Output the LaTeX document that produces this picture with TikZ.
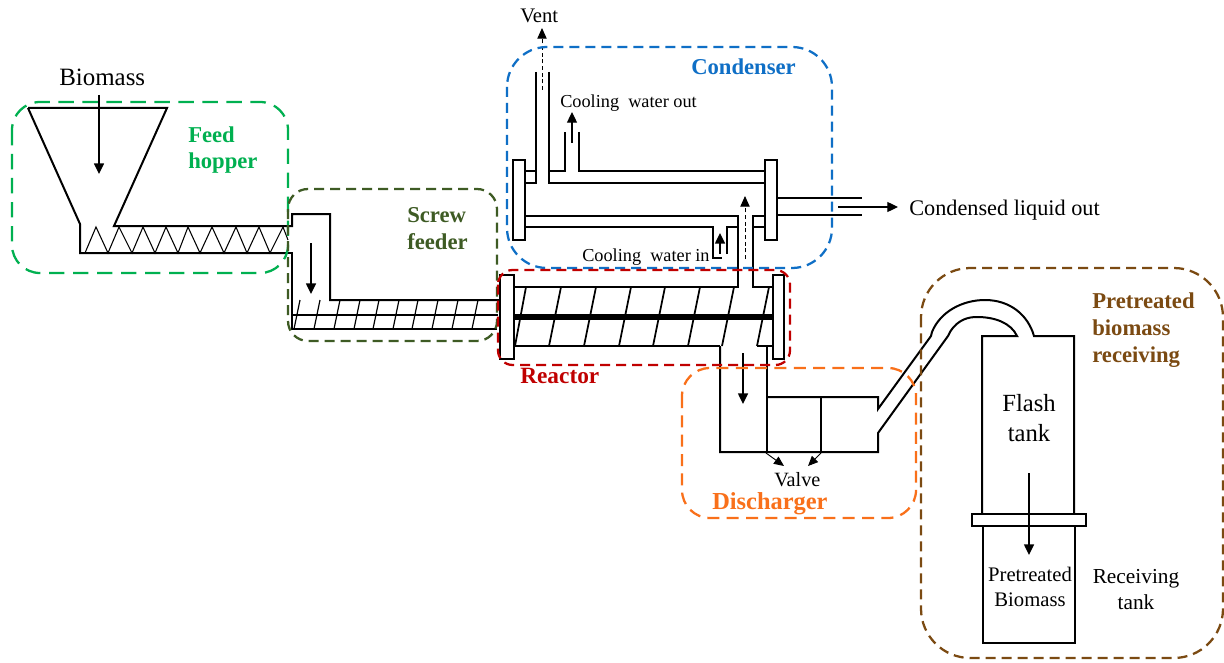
\documentclass[tikz,border=0pt]{standalone}
\usepackage{fontspec}
\setmainfont{Liberation Serif}
\usetikzlibrary{arrows.meta}
\definecolor{cgreen}{HTML}{00B050}
\definecolor{cscrew}{HTML}{3E5B24}
\definecolor{cblue}{HTML}{0F6FC6}
\definecolor{cred}{HTML}{C00000}
\definecolor{corange}{HTML}{F9701A}
\definecolor{cbrown}{HTML}{7B4A12}
\tikzset{
  pipe/.style={draw=black,line width=1.5pt,line join=miter},
  thin pipe/.style={draw=black,line width=1.1pt},
  zone/.style={line width=1.7pt,dash pattern=on 7.5pt off 4.5pt},
  zonelong/.style={line width=1.7pt,dash pattern=on 11.5pt off 6.5pt},
  flow/.style={draw=black,line width=1.1pt,-{Triangle[length=8pt,width=7.5pt]}},
  flowd/.style={draw=black,line width=0.7pt,dash pattern=on 3pt off 2pt,-{Triangle[length=8pt,width=7pt]}},
  lab/.style={anchor=base west,inner sep=0pt,text=black},
  blab/.style={anchor=base west,inner sep=0pt,font=\fontsize{17}{19}\selectfont\bfseries},
  flange/.style={draw=black,line width=1.5pt,fill=white,inner sep=0pt,outer sep=0pt},
}
\begin{document}
\begin{tikzpicture}[x=0.75pt,y=-0.75pt]
\useasboundingbox (0,0) rectangle (1224,663);
\fill[white] (0,0) rectangle (1224,663);

% feed hopper
\draw[pipe] (28,108) -- (167,108) -- (114,226) -- (292,226) -- (292,214) -- (330,214) -- (330,300) -- (499,300);
\draw[pipe] (28,108) -- (80,224) -- (80,253) -- (286,253);
\draw[pipe] (286,253) -- (292,253) -- (292,329) -- (497,329);
\draw[thin pipe,line width=0.8pt] (85,253) -- (96,227) -- (108,253) -- (119,227) -- (132,253) -- (143,227) -- (155,253) -- (166,227) -- (178,253) -- (188,227) -- (200,253) -- (212,227) -- (224,253) -- (236,227) -- (247,253) -- (259,227) -- (270,253) -- (283,227) -- (288,240);
% screw feeder
\draw[line width=2.1pt] (292,315) -- (498,315);
\foreach \t in {300,320,340,360,379,399,418,438,458,478}
  \draw[thin pipe,line width=0.9pt] (\t,300) -- ({\t-6},329);

% condenser
\draw[pipe] (536,72) -- (536,183) -- (525,183);
\draw[pipe] (549,72) -- (549,183) -- (765,183);
\draw[pipe] (525,171) -- (536,171);
\draw[pipe] (549,171) -- (565,171) -- (565,132);
\draw[pipe] (579,132) -- (579,171) -- (765,171);
\draw[pipe] (525,216) -- (738,216) -- (738,287) -- (514,287);
\draw[pipe] (525,227) -- (713,227) -- (713,257);
\draw[pipe] (727,254) -- (727,227) -- (738,227);
\draw[pipe] (773,287) -- (753,287) -- (753,216) -- (765,216);
\draw[pipe] (753,227) -- (765,227);
\draw[pipe] (777,198) -- (862,198);
\draw[pipe] (777,215) -- (862,215);
\node[flange,minimum width=9pt,minimum height=60pt] (cl) at (519,200) {};
\node[flange,minimum width=9pt,minimum height=60pt] (cr) at (771,200) {};

% reactor
\draw[pipe] (514,346) -- (720,346);
\draw[pipe] (757,346) -- (773,346);
\foreach \t/\b in {526/515,561/549,596/584,631/619,665/653,700/688,734/722,769/757}
  \draw[pipe,line width=1.3pt] (\t,287) -- (\b,346);
\draw[line width=3.8pt] (514,317) -- (773,317);
\node[flange,minimum width=10pt,minimum height=63pt] (rl) at (507,317) {};
\node[flange,minimum width=8.5pt,minimum height=63pt] (rr) at (778.5,317) {};

% discharger
\draw[pipe] (720,346) -- (720,452) -- (878,452) -- (878,433) -- (948,336) -- (950,332)
  .. controls (958,319) and (969,317) .. (977,317)
  .. controls (995,317) and (1011,323) .. (1017,336) -- (982,336) -- (982,514);
\draw[pipe] (767,346) -- (767,452);
\draw[pipe] (767,397) -- (878,397) -- (878,409) -- (931,336) -- (932,332)
  .. controls (940,312) and (962,300) .. (985,300)
  .. controls (1010,300) and (1028,315) .. (1034,336) -- (1074,336) -- (1074,514);
\draw[pipe] (821,397) -- (821,452);

% tanks
\node[flange,minimum width=85.5pt,minimum height=9pt] (fl) at (1029,520) {};
\draw[pipe] (983,526) -- (983,643) -- (1075,643) -- (1075,526);

% flow arrows
\coordinate (a1s) at (99,95);     \coordinate (a1e) at (99,174);
\coordinate (a2s) at (311,243);   \coordinate (a2e) at (311,294);
\coordinate (a3s) at (743,353);   \coordinate (a3e) at (743,404);
\coordinate (a4s) at (1029,473);  \coordinate (a4e) at (1029,555);
\coordinate (a5s) at (838,207);   \coordinate (a5e) at (898,207);
\coordinate (a6s) at (572,143);   \coordinate (a6e) at (572,112);
\coordinate (a7s) at (720,254);   \coordinate (a7e) at (720,233);
\coordinate (a8s) at (542,90);    \coordinate (a8e) at (542,28);
\coordinate (a9s) at (745,259);   \coordinate (a9e) at (745,196);
\coordinate (v1s) at (766,453);   \coordinate (v1e) at (784,466);
\coordinate (v2s) at (821,453);   \coordinate (v2e) at (808,466);
\foreach \n in {a1,a2,a3,a4} \draw[flow] (\n s) -- (\n e);
\draw[flow,line width=0.9pt] (a5s) -- (a5e);
\draw[flow,line width=0.9pt] (a6s) -- (a6e);
\draw[flow] (a7s) -- (a7e);
\draw[flowd] (a8s) -- (a8e);
\draw[flowd] (a9s) -- (a9e);
\draw[flow,line width=0.7pt,-{Triangle[length=7.5pt,width=6.5pt]}] (v1s) -- (v1e);
\draw[flow,line width=0.7pt,-{Triangle[length=7.5pt,width=6.5pt]}] (v2s) -- (v2e);
\draw[line width=0.8pt] (712,258) -- (722,258);

% zones
\draw[zonelong,cgreen,rounded corners=21pt] (12,102) rectangle (288,273);
\draw[zone,cscrew,rounded corners=15pt] (288,189) rectangle (497,341);
\draw[zone,cblue,rounded corners=30pt] (507,47) rectangle (832,268);
\draw[zone,cred,rounded corners=11pt] (498,270) rectangle (790,365);
\draw[zonelong,corange,rounded corners=21pt,dash pattern=on 9pt off 5.5pt] (682,368) rectangle (916,518);
\draw[zone,cbrown,rounded corners=37pt] (921,268) rectangle (1223,658);

% labels
\node[lab,font=\fontsize{18.7}{20}\selectfont] (tbio) at (59,86) {Biomass};
\node[lab,font=\fontsize{15.5}{17}\selectfont] (tvent) at (520,23) {Vent};
\node[lab,font=\fontsize{13.7}{15}\selectfont] (tcwo) at (560,108) {Cooling\ \ water out};
\node[lab,font=\fontsize{13.7}{15}\selectfont] (tcwi) at (582,261) {Cooling\ \ water in};
\node[lab,font=\fontsize{16.7}{18}\selectfont] (tcond) at (909,215) {Condensed liquid out};
\node[lab,font=\fontsize{15.2}{17}\selectfont] (tvalve) at (774,486) {Valve};
\node[anchor=base,inner sep=0pt,font=\fontsize{18.5}{20}\selectfont] (tfl1) at (1029,411) {Flash};
\node[anchor=base,inner sep=0pt,font=\fontsize{18.5}{20}\selectfont] (tfl2) at (1029,441) {tank};
\node[anchor=base,inner sep=0pt,font=\fontsize{15.5}{17}\selectfont] (tpb1) at (1030,581) {Pretreated};
\node[anchor=base,inner sep=0pt,font=\fontsize{15.5}{17}\selectfont] (tpb2) at (1030,606) {Biomass};
\node[anchor=base,inner sep=0pt,font=\fontsize{16}{18}\selectfont] (trc1) at (1136,583) {Receiving};
\node[anchor=base,inner sep=0pt,font=\fontsize{16}{18}\selectfont] (trc2) at (1136,609) {tank};

\node[blab,text=cgreen] (zf1) at (188,143) {Feed};
\node[blab,text=cgreen] (zf2) at (188,169) {hopper};
\node[blab,text=cscrew] (zs1) at (407,223) {Screw};
\node[blab,text=cscrew] (zs2) at (407,249) {feeder};
\node[blab,text=cblue] (zc) at (691,75) {Condenser};
\node[blab,text=cred,font=\fontsize{17.5}{19}\selectfont\bfseries] (zr) at (520,383) {Reactor};
\node[blab,text=corange,font=\fontsize{18.3}{20}\selectfont\bfseries] (zd) at (712,509) {Discharger};
\node[blab,text=cbrown] (zp1) at (1092,308) {Pretreated};
\node[blab,text=cbrown] (zp2) at (1092,335) {biomass};
\node[blab,text=cbrown] (zp3) at (1092,362) {receiving};
\end{tikzpicture}
\end{document}
